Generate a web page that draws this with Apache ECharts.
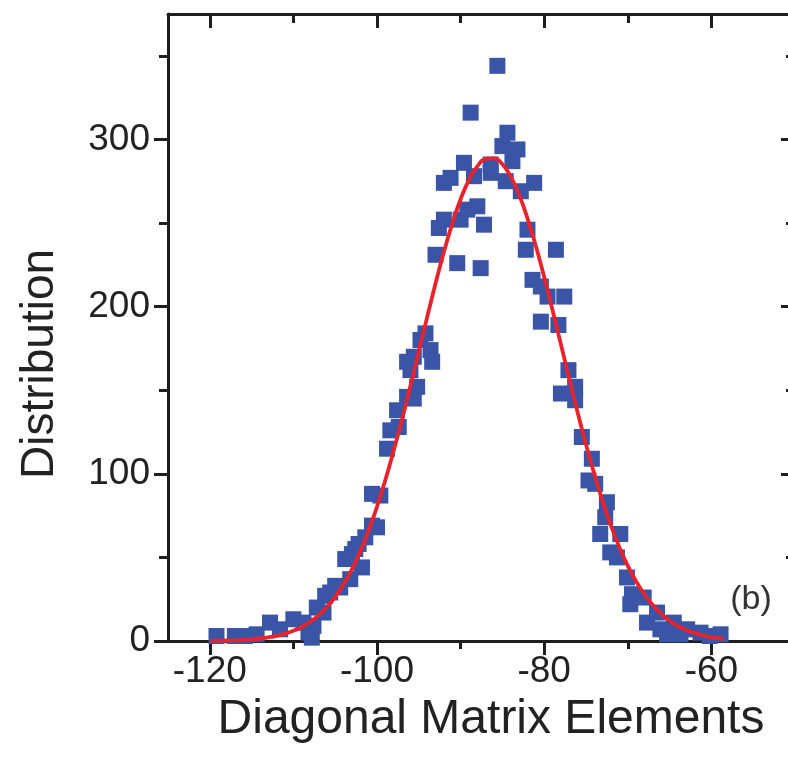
<!DOCTYPE html>
<html>
<head>
<meta charset="utf-8">
<script src="https://cdn.jsdelivr.net/npm/echarts@6/dist/echarts.min.js"></script>
<style>
html,body{margin:0;padding:0;background:#fff;}
#c{width:788px;height:775px;}
</style>
</head>
<body>
<div id="c"></div>
<script>
// measured points (x, y)
const pointX = [-119.2,-117.0,-115.8,-114.4,-112.8,-111.6,-110.0,-108.8,-108.2,-107.8,-107.6,-107.2,-106.4,-106.2,-105.6,-105.0,-104.4,-103.8,-103.2,-103.0,-102.6,-102.2,-101.8,-101.4,-100.6,-100.0,-100.6,-99.6,-98.8,-98.4,-97.4,-97.6,-96.4,-95.6,-95.2,-96.4,-96.0,-95.6,-94.8,-94.2,-93.6,-93.4,-93.0,-92.6,-92.0,-92.0,-91.2,-90.4,-90.0,-89.6,-89.2,-88.8,-88.4,-88.0,-87.6,-87.2,-86.4,-86.4,-85.6,-85.0,-84.6,-84.4,-83.8,-83.2,-82.8,-82.2,-82.0,-81.2,-81.4,-80.4,-80.4,-79.6,-78.6,-78.3,-77.6,-77.1,-76.3,-78.0,-76.3,-75.5,-74.3,-74.7,-73.9,-72.5,-72.7,-73.3,-70.9,-72.1,-71.3,-70.1,-69.5,-69.7,-68.1,-67.7,-66.5,-66.1,-65.3,-64.5,-63.7,-62.9,-61.3,-60.2,-58.9];
const pointY = [3,3,3,4,11,7,13,11,5,2,9,20,17,27,29,33,32,49,37,52,55,58,44,62,69,68,88,87,115,126,128,138,146,145,152,167,162,170,180,184,174,167,231,247,252,274,277,226,252,286,258,316,278,260,223,249,285,280,344,296,275,304,287,294,269,234,246,274,216,212,191,206,234,189,206,162,152,148,144,122,109,96,94,83,74,64,64,53,50,38,28,22,26,11,17,7,4,11,4,7,5,3,4];
// fitted curve
const fitX = [-120,-119,-118,-117,-116,-115,-114,-113,-112,-111,-110,-109,-108,-107,-106,-105,-104,-103,-102,-101,-100,-99,-98,-97,-96,-95,-94,-93,-92,-91,-90,-89,-88,-87,-86,-85,-84,-83,-82,-81,-80,-79,-78,-77,-76,-75,-74,-73,-72,-71,-70,-69,-68,-67,-66,-65,-64,-63,-62,-61,-60,-59,-58.5];
const fitY = [0.1,0.2,0.3,0.4,0.7,1.0,1.5,2.2,3.1,4.4,6.1,8.4,11.5,15.3,20.2,26.4,33.9,42.9,53.6,66.1,80.3,96.3,113.9,132.7,152.7,173.2,193.7,213.8,232.6,249.6,264.2,275.8,283.9,288.3,288.7,285.1,277.7,266.8,252.8,236.2,217.7,197.8,177.4,156.8,136.7,117.6,99.7,83.4,68.8,56.0,44.9,35.6,27.8,21.4,16.2,12.1,9.0,6.5,4.7,3.3,2.3,1.6,1.3];
const xMajor = [-120,-100,-80,-60];
const xMinor = [-110,-90,-70];
const yMajor = [0,100,200,300];
const yMinor = [50,150,250,350];
const xTitle = 'Diagonal Matrix Elements';
const yTitle = 'Distribution';
const panelTag = '(b)';

const scatterData = pointX.map((x,i)=>[x, pointY[i]]);
const fitData = fitX.map((x,i)=>[x, fitY[i]]);

const AX = '#1e1e1e';
const FONT = 'Liberation Sans, Arial, Helvetica, sans-serif';
function xAx(pos, ticks, len, inside, showLine, showLabel){
  return {
    type:'value', position:pos, min:-125, max:-50,
    axisLine:{show:showLine, onZero:false, lineStyle:{color:AX, width:3}},
    axisTick:{show:true, inside:inside, length:len, customValues:ticks, lineStyle:{color:AX, width:3}},
    axisLabel:{show:showLabel, customValues:ticks, fontSize:37, color:'#222', margin:12, fontFamily:FONT},
    splitLine:{show:false}
  };
}
function yAx(pos, ticks, len, inside, showLine, showLabel){
  return {
    type:'value', position:pos, min:0, max:375,
    axisLine:{show:showLine, onZero:false, lineStyle:{color:AX, width:3}},
    axisTick:{show:true, inside:inside, length:len, customValues:ticks, lineStyle:{color:AX, width:3}},
    axisLabel:{show:showLabel, customValues:ticks, fontSize:37, color:'#222', margin:18, fontFamily:FONT},
    splitLine:{show:false}
  };
}
const chart = echarts.init(document.getElementById('c'), null, {renderer:'canvas'});
chart.setOption({
  animation:false,
  backgroundColor:'#fff',
  grid:{left:168, right:-7, top:14, bottom:134, containLabel:false, outerBoundsMode:'none'},
  xAxis:[
    xAx('bottom', xMajor, 14, false, true, true),
    xAx('bottom', xMinor, 8, false, false, false),
    xAx('top', xMajor, 14, true, true, false),
    xAx('top', xMinor, 9, true, false, false)
  ],
  yAxis:[
    yAx('left', yMajor, 14, false, true, true),
    yAx('left', yMinor, 9, false, false, false),
    yAx('right', yMajor, 14, true, true, false),
    yAx('right', yMinor, 9, true, false, false)
  ],
  series:[
    {type:'scatter', xAxisIndex:0, yAxisIndex:0, data:scatterData, symbol:'rect', symbolSize:16,
     itemStyle:{color:'#3a55a6', opacity:1}, z:2},
    {type:'line', xAxisIndex:0, yAxisIndex:0, data:fitData, smooth:true, showSymbol:false, symbol:'none',
     lineStyle:{color:'#e8232b', width:3.8}, z:3}
  ],
  graphic:[
    {type:'text', position:[491,720], style:{text:xTitle, fontSize:48, fill:'#222', fontFamily:FONT, textAlign:'center', textVerticalAlign:'middle'}},
    {type:'text', rotation:Math.PI/2, position:[40,364], style:{text:yTitle, fontSize:46, fill:'#222', fontFamily:FONT, textAlign:'center', textVerticalAlign:'middle'}},
    {type:'text', position:[751,600], style:{text:panelTag, fontSize:34, fill:'#333', fontFamily:FONT, textAlign:'center', textVerticalAlign:'middle'}}
  ]
});
</script>
</body>
</html>
